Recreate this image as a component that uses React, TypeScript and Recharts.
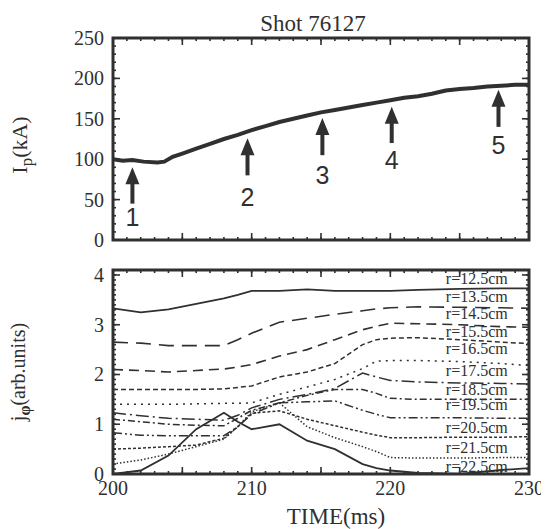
import React from 'react';
import { LineChart, Line, XAxis, YAxis, ReferenceLine, ReferenceDot, ReferenceArea } from 'recharts';

const FONT = '"Liberation Serif", "Times New Roman", serif';
const SANS = '"Liberation Sans", Arial, sans-serif';
const INK = '#303030';
const serifStyle = { fontFamily: FONT };

// ---------- Top panel: plasma current ----------
const ipTimes = [200, 200.7, 201.4, 202.2, 203.2, 203.7, 204.3, 205, 206, 207, 208, 209, 210, 211, 212, 213, 214, 215, 216, 217, 218, 219, 220, 221, 222, 223, 224, 225, 226, 227, 228, 229, 230];
const ipValues = [100, 98, 99, 97, 96, 97, 103, 107, 113, 119, 125, 130, 136, 141, 146, 150, 154, 158, 161, 164, 167, 170, 173, 176, 178, 181, 185, 187, 188, 190, 191, 192, 192];

const arrowTimes = [201.4, 209.7, 215.1, 220.1, 227.8];
const arrowTips = [90, 126, 151, 165, 186];
const arrowTails = [45, 80, 105, 120, 140];
const arrowLabels = ['1', '2', '3', '4', '5'];
const arrowLabelY = [28, 53, 80, 99, 118];

const ipMajorY = [0, 50, 100, 150, 200, 250];

// ---------- Bottom panel: current density profiles ----------
const jTimes = [200, 202, 204, 206, 208, 209, 210, 212, 214, 216, 218, 219, 220, 222, 225, 228, 230];
const radii = ['12.5', '13.5', '14.5', '15.5', '16.5', '17.5', '18.5', '19.5', '20.5', '21.5', '22.5'];
const j125 = [3.33, 3.25, 3.31, 3.42, 3.53, 3.60, 3.68, 3.68, 3.71, 3.68, 3.68, 3.68, 3.68, 3.70, 3.72, 3.73, 3.73];
const j135 = [2.65, 2.63, 2.58, 2.58, 2.58, 2.70, 2.83, 3.05, 3.13, 3.21, 3.28, 3.32, 3.34, 3.36, 3.35, 3.34, 3.33];
const j145 = [2.10, 2.08, 2.05, 2.08, 2.11, 2.15, 2.20, 2.37, 2.50, 2.70, 2.90, 2.97, 3.03, 3.02, 3.00, 2.96, 2.95];
const j155 = [1.70, 1.70, 1.70, 1.70, 1.71, 1.74, 1.77, 1.95, 2.05, 2.22, 2.60, 2.70, 2.73, 2.74, 2.70, 2.65, 2.62];
const j165 = [1.40, 1.40, 1.40, 1.41, 1.42, 1.42, 1.43, 1.60, 1.75, 1.90, 2.12, 2.27, 2.28, 2.28, 2.26, 2.22, 2.18];
const j175 = [1.23, 1.17, 1.12, 1.10, 1.08, 1.18, 1.33, 1.50, 1.60, 1.72, 2.03, 1.95, 1.88, 1.85, 1.83, 1.82, 1.81];
const j185 = [1.10, 1.05, 1.00, 0.98, 0.97, 1.12, 1.28, 1.43, 1.58, 1.70, 1.70, 1.62, 1.52, 1.50, 1.50, 1.50, 1.50];
const j195 = [0.83, 0.78, 0.77, 0.77, 0.77, 0.95, 1.20, 1.43, 1.45, 1.47, 1.28, 1.20, 1.13, 1.13, 1.13, 1.12, 1.12];
const j205 = [0.50, 0.52, 0.55, 0.58, 0.72, 0.95, 1.22, 1.27, 1.10, 0.97, 0.84, 0.78, 0.73, 0.73, 0.74, 0.74, 0.75];
const j215 = [0.20, 0.28, 0.40, 0.55, 0.70, 0.95, 1.25, 1.43, 0.95, 0.73, 0.55, 0.45, 0.33, 0.32, 0.32, 0.33, 0.33];
const j225 = [0.00, 0.07, 0.37, 0.90, 1.23, 1.05, 0.90, 1.00, 0.67, 0.50, 0.20, 0.12, 0.07, 0.02, 0.00, 0.08, 0.12];
const jSeries = [j125, j135, j145, j155, j165, j175, j185, j195, j205, j215, j225];
const dashes = ['', '15 8', '10 6', '5 3', '2 5', '13 4 2 4', '7 3 2 3', '9 3 2 3 2 3', '3 2', '1.5 2', ''];
const widths = [1.8, 1.6, 1.6, 1.5, 1.5, 1.5, 1.5, 1.5, 1.5, 1.5, 1.8];

const rLabelTime = 224;
const rLabelY = [3.92, 3.56, 3.23, 2.87, 2.53, 2.08, 1.70, 1.39, 0.93, 0.53, 0.16];

const jMajorY = [0, 1, 2, 3, 4];
const xMajor = [200, 205, 210, 215, 220, 225, 230];
const xLabelled = [200, 210, 220, 230];

const range = (a: number, b: number, s: number) => {
  const out: number[] = [];
  for (let v = a; v <= b + 1e-9; v += s) out.push(Math.round(v * 1000) / 1000);
  return out;
};
const xMinor = range(200, 230, 1);
const ipMinorY = range(0, 250, 10);
const jMinorY = range(0, 4.1, 0.1);

const ipData = ipTimes.map((t, i) => ({ t, ip: ipValues[i] }));
const jData = jTimes.map((t, i) => {
  const row: Record<string, number> = { t };
  radii.forEach((r, k) => { row['r' + r] = jSeries[k][i]; });
  return row;
});

type Side = 'bottom' | 'top' | 'left' | 'right';
const tickMaker = (side: Side, len: number, label?: (v: number) => string | null) => (p: any) => {
  const x = Number(p.x);
  const y = Number(p.y);
  const v = p.payload ? p.payload.value : 0;
  let x2 = x;
  let y2 = y;
  if (side === 'bottom') y2 = y - len;
  if (side === 'top') y2 = y + len;
  if (side === 'left') x2 = x + len;
  if (side === 'right') x2 = x - len;
  const text = label ? label(v) : null;
  return (
    <g>
      <line x1={x} y1={y} x2={x2} y2={y2} stroke={INK} strokeWidth={1.6} />
      {text !== null && side === 'bottom' && (
        <text x={x} y={y + 21} textAnchor="middle" fontFamily={FONT} style={serifStyle} fontSize={20} fill={INK}>{text}</text>
      )}
      {text !== null && side === 'left' && (
        <text x={x - 9} y={y + 7} textAnchor="end" fontFamily={FONT} style={serifStyle} fontSize={20} fill={INK}>{text}</text>
      )}
    </g>
  );
};

const axisCommon = {
  tickLine: false,
  axisLine: false,
  tickSize: 0,
  tickMargin: 0,
  interval: 0 as const,
  allowDataOverflow: true,
};

const ArrowHead = (p: any) => {
  const cx = Number(p.cx);
  const cy = Number(p.cy);
  return <polygon points={`${cx},${cy} ${cx - 7},${cy + 17} ${cx + 7},${cy + 17}`} fill={INK} />;
};

export default function App() {
  return (
    <div style={{ width: 541, fontFamily: FONT }}>
      <LineChart width={541} height={245} data={ipData} margin={{ top: 28, right: 18, bottom: 11, left: 103 }} style={{ display: 'block', fontFamily: FONT }}>
        <XAxis xAxisId="b" dataKey="t" type="number" domain={[200, 230]} ticks={xMajor} height={1} tick={tickMaker('bottom', 7)} {...axisCommon} />
        <XAxis xAxisId="bm" dataKey="t" type="number" domain={[200, 230]} ticks={xMinor} height={1} tick={tickMaker('bottom', 4)} {...axisCommon} />
        <XAxis xAxisId="t" dataKey="t" type="number" orientation="top" domain={[200, 230]} ticks={xMajor} height={1} tick={tickMaker('top', 7)} {...axisCommon}
          label={(lp: any) => {
            const vb = lp.viewBox || { x: 105, y: 30, width: 416 };
            return <text x={vb.x + vb.width / 2 - 8} y={15} dominantBaseline="central" textAnchor="middle" fontFamily={FONT} style={serifStyle} fontSize={23} fill={INK}>Shot 76127</text>;
          }} />
        <XAxis xAxisId="tm" dataKey="t" type="number" orientation="top" domain={[200, 230]} ticks={xMinor} height={1} tick={tickMaker('top', 4)} {...axisCommon} />
        <YAxis yAxisId="l" type="number" domain={[0, 250]} ticks={ipMajorY} width={1} tick={tickMaker('left', 7, (v) => String(v))} {...axisCommon}
          label={(lp: any) => {
            const vb = lp.viewBox || { x: 105, y: 30, height: 202 };
            const cx = vb.x + vb.width - 94;
            const cy = vb.y + vb.height / 2 + 6;
            return (
              <text x={cx} y={cy} transform={`rotate(-90, ${cx}, ${cy})`} textAnchor="middle" dominantBaseline="central" fontFamily={FONT} style={serifStyle} fontSize={22} fill={INK}>
                I<tspan dy={7} fontSize={17}>p</tspan><tspan dy={-7}>(kA)</tspan>
              </text>
            );
          }} />
        <YAxis yAxisId="lm" type="number" domain={[0, 250]} ticks={ipMinorY} width={1} tick={tickMaker('left', 4)} {...axisCommon} />
        <YAxis yAxisId="r" orientation="right" type="number" domain={[0, 250]} ticks={ipMajorY} width={1} tick={tickMaker('right', 7)} {...axisCommon} />
        <YAxis yAxisId="rm" orientation="right" type="number" domain={[0, 250]} ticks={ipMinorY} width={1} tick={tickMaker('right', 4)} {...axisCommon} />
        <ReferenceArea xAxisId="b" yAxisId="l" x1={200} x2={230} y1={0} y2={250} fill="none" stroke={INK} strokeWidth={3} />
        <Line xAxisId="b" yAxisId="l" dataKey="ip" type="linear" stroke={INK} strokeWidth={4} dot={false} isAnimationActive={false} />
        {arrowTimes.map((t, i) => (
          <ReferenceLine key={'s' + i} xAxisId="b" yAxisId="l" segment={[{ x: t, y: arrowTails[i] }, { x: t, y: arrowTips[i] - 10 }]} stroke={INK} strokeWidth={4} />
        ))}
        {arrowTimes.map((t, i) => (
          <ReferenceDot key={'h' + i} xAxisId="b" yAxisId="l" x={t} y={arrowTips[i]} r={1} shape={ArrowHead} />
        ))}
        {arrowTimes.map((t, i) => (
          <ReferenceDot key={'n' + i} xAxisId="b" yAxisId="l" x={t} y={arrowLabelY[i]} r={1}
            shape={(p: any) => (
              <text x={p.cx} y={p.cy} textAnchor="middle" dominantBaseline="central" fontFamily={SANS} fontSize={25} fill={INK}>{arrowLabels[i]}</text>
            )} />
        ))}
      </LineChart>
      <LineChart width={541} height={276} data={jData} margin={{ top: 15, right: 18, bottom: 53, left: 103 }} style={{ display: 'block', fontFamily: FONT }}>
        <XAxis xAxisId="b" dataKey="t" type="number" domain={[200, 230]} ticks={xMajor} height={1}
          tick={tickMaker('bottom', 7, (v) => (xLabelled.includes(v) ? String(v) : null))} {...axisCommon}
          label={(lp: any) => {
            const vb = lp.viewBox || { x: 105, y: 221, width: 416 };
            return <text x={vb.x + vb.width / 2 + 15} y={vb.y + 42} dominantBaseline="central" textAnchor="middle" fontFamily={FONT} style={serifStyle} fontSize={23} fill={INK}>TIME(ms)</text>;
          }} />
        <XAxis xAxisId="bm" dataKey="t" type="number" domain={[200, 230]} ticks={xMinor} height={1} tick={tickMaker('bottom', 4)} {...axisCommon} />
        <XAxis xAxisId="t" dataKey="t" type="number" orientation="top" domain={[200, 230]} ticks={xMajor} height={1} tick={tickMaker('top', 7)} {...axisCommon} />
        <XAxis xAxisId="tm" dataKey="t" type="number" orientation="top" domain={[200, 230]} ticks={xMinor} height={1} tick={tickMaker('top', 4)} {...axisCommon} />
        <YAxis yAxisId="l" type="number" domain={[0, 4.1]} ticks={jMajorY} width={1} tick={tickMaker('left', 7, (v) => String(v))} {...axisCommon}
          label={(lp: any) => {
            const vb = lp.viewBox || { x: 105, y: 17, height: 204 };
            const cx = vb.x + vb.width - 95;
            const cy = vb.y + vb.height / 2;
            return (
              <text x={cx} y={cy} transform={`rotate(-90, ${cx}, ${cy})`} textAnchor="middle" dominantBaseline="central" fontFamily={FONT} style={serifStyle} fontSize={20} fill={INK}>
                j<tspan dy={6} fontSize={16} fontWeight="bold">φ</tspan><tspan dy={-6}>(arb.units)</tspan>
              </text>
            );
          }} />
        <YAxis yAxisId="lm" type="number" domain={[0, 4.1]} ticks={jMinorY} width={1} tick={tickMaker('left', 4)} {...axisCommon} />
        <YAxis yAxisId="r" orientation="right" type="number" domain={[0, 4.1]} ticks={jMajorY} width={1} tick={tickMaker('right', 7)} {...axisCommon} />
        <YAxis yAxisId="rm" orientation="right" type="number" domain={[0, 4.1]} ticks={jMinorY} width={1} tick={tickMaker('right', 4)} {...axisCommon} />
        <ReferenceArea xAxisId="b" yAxisId="l" x1={200} x2={230} y1={0} y2={4.1} fill="none" stroke={INK} strokeWidth={3} />
        {radii.map((r, k) => (
          <Line key={r} xAxisId="b" yAxisId="l" dataKey={'r' + r} type="linear" stroke={INK} strokeWidth={widths[k]}
            strokeDasharray={dashes[k] || undefined} dot={false} isAnimationActive={false} />
        ))}
        {radii.map((r, k) => (
          <ReferenceDot key={'lab' + r} xAxisId="b" yAxisId="l" x={rLabelTime} y={rLabelY[k]} r={1}
            shape={(p: any) => (
              <text x={p.cx} y={p.cy} dominantBaseline="central" fontFamily={FONT} style={serifStyle} fontSize={16} fill={INK}>{'r=' + r + 'cm'}</text>
            )} />
        ))}
      </LineChart>
    </div>
  );
}
